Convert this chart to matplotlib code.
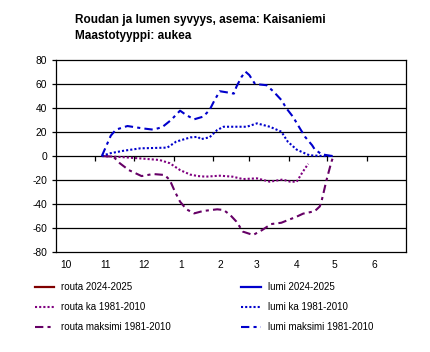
import matplotlib
matplotlib.use("Agg")
import matplotlib.pyplot as plt

plt.rcParams['font.family'] = ['Liberation Sans', 'DejaVu Sans']
plt.rcParams['axes.unicode_minus'] = False

# days counted from 1 October, depth in cm (snow positive, frost negative)
month_labels = ["10", "11", "12", "1", "2", "3", "4", "5", "6"]
month_starts = [0, 31, 61, 92, 123, 151, 182, 212, 243]
season_end = 273

routa_2425_day = []
routa_2425_cm = []
lumi_2425_day = []
lumi_2425_cm = []

routa_ka_day = [36, 45, 53, 66, 81, 89, 97, 105, 111, 117, 128, 138, 146, 157, 167,
                177, 183, 188, 192, 194.5, 197]
routa_ka_cm = [0, -0.5, -1, -2, -3.3, -6, -11.7, -15.5, -16.7, -17.2, -16.4, -17.2,
               -19.2, -18.6, -21.4, -19.6, -21.4, -21.4, -14.4, -10.3, -6.5]

routa_max_day = [36, 45, 50, 57, 67, 76, 85, 89, 93, 97, 102, 108, 115, 126, 131,
                 136, 141, 146, 154, 161, 168, 176, 182, 187, 193, 202, 206, 207.5,
                 209.5, 211, 213, 215, 216]
routa_max_cm = [0, -0.5, -6, -11.7, -16.7, -15, -15.8, -20, -29.7, -38, -44.4, -47.8,
                -45.8, -44.4, -45, -49, -54.7, -63, -65.8, -61.7, -56.7, -55.6, -53,
                -51, -48, -46, -42, -37, -28, -21, -13, -5, -2]

lumi_ka_day = [36, 42, 53, 66, 87, 94, 105, 111, 113, 120, 126, 131, 149, 157, 167,
               176, 181, 188, 194.5, 198, 209, 216]
lumi_ka_cm = [0, 2.2, 4.4, 6.4, 7, 12, 15.5, 16, 14, 15.6, 21.7, 24.4, 24.4, 27.2,
              24.4, 20.3, 12, 5.3, 2.2, 0.6, 0, 0]

lumi_max_day = [36, 43, 47, 56, 62, 68, 76, 83, 90, 97, 102, 108, 115, 120, 124, 128,
                135, 139, 141, 145, 148, 151, 155.5, 164.5, 170, 176, 180, 185, 190.5,
                194.5, 200, 202, 207.5, 214, 216]
lumi_max_cm = [0, 17, 22, 25, 24, 23, 22, 24, 30, 37.8, 34, 30.6, 32.8, 38.3, 46.7,
               54, 52.8, 52, 57.8, 66, 70.3, 67.5, 60, 59, 53.6, 46.7, 39.7, 32.8, 23,
               16, 9, 5.6, 1.4, 0.3, 0]

fig = plt.figure(figsize=(4.3, 3.52), dpi=100)
ax = fig.add_axes([0.1295, 0.284, 0.814, 0.5455])

ax.plot(routa_2425_day, routa_2425_cm, color='#800000', lw=1.6, label='routa 2024-2025')
ax.plot(routa_ka_day, routa_ka_cm, color='#800080', lw=1.5, ls=(0, (1, 1)),
        label='routa ka 1981-2010')
ax.plot(routa_max_day, routa_max_cm, color='#660066', lw=1.5, ls=(0, (4, 2, 1.5, 2)),
        label='routa maksimi 1981-2010')
ax.plot(lumi_2425_day, lumi_2425_cm, color='#0000CC', lw=1.6, label='lumi 2024-2025')
ax.plot(lumi_ka_day, lumi_ka_cm, color='#0000CC', lw=1.5, ls=(0, (1, 1)),
        label='lumi ka 1981-2010')
ax.plot(lumi_max_day, lumi_max_cm, color='#0000CC', lw=1.5, ls=(0, (4, 2, 1.5, 2)),
        label='lumi maksimi 1981-2010')

ax.set_xlim(0, season_end)
ax.set_ylim(-80, 80)
ax.set_yticks(range(-80, 81, 20))
for v in range(-60, 61, 20):
    ax.axhline(v, color='black', lw=0.9, zorder=0)
for s in ax.spines.values():
    s.set_color('black')
    s.set_linewidth(0.9)
ax.tick_params(axis='y', length=3, width=0.9, labelsize=7.4, pad=3)
ax.set_xticks([])

# small month ticks on the zero line
ax.vlines(month_starts[1:], -4, 0, color='black', lw=0.9)

# month labels
for lab, d in zip(month_labels, month_starts):
    ax.text(d + 3.5, -0.068, lab, transform=ax.get_xaxis_transform(),
            ha='left', va='center', fontsize=7.4)

fig.text(0.174, 1 - 14 / 352, "Roudan ja lumen syvyys, asema: Kaisaniemi\nMaastotyyppi: aukea",
         ha='left', va='top', fontsize=8.5, fontweight='bold', linespacing=1.45)

fig.legend(loc='upper left', bbox_to_anchor=(35 / 430, 1 - 282 / 352), ncol=2,
           frameon=False, fontsize=7.0, handlelength=2.0, handletextpad=0.72,
           columnspacing=7.2, labelspacing=1.05, borderpad=0, borderaxespad=0)

fig.savefig("out.png", dpi=100)
